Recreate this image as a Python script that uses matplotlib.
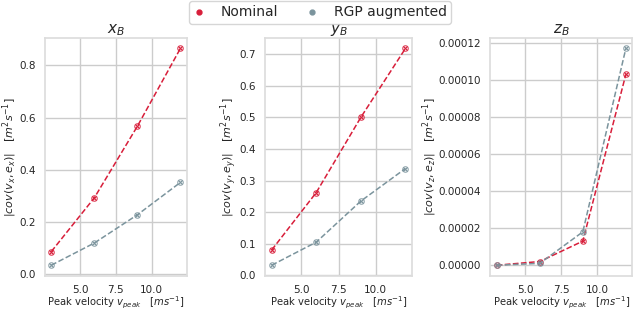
import matplotlib
matplotlib.use("Agg")
import matplotlib.pyplot as plt
import seaborn as sns

sns.set_theme(style="whitegrid")
plt.rcParams["font.family"] = ["DejaVu Sans"]

# peak velocities and covariance magnitudes
v_peak = [3, 6, 9, 12]
nominal_x = [0.087, 0.293, 0.567, 0.865]
rgp_x = [0.035, 0.120, 0.228, 0.352]
nominal_y = [0.080, 0.262, 0.500, 0.718]
rgp_y = [0.032, 0.105, 0.235, 0.338]
nominal_z = [0.0, 2.0e-6, 1.3e-5, 1.03e-4]
rgp_z = [0.0, 1.0e-6, 1.8e-5, 1.17e-4]

titles = [r"$x_B$", r"$y_B$", r"$z_B$"]
ylabels = [r"$|cov(v_x, e_x)|$   $[m^2s^{-1}]$",
           r"$|cov(v_y, e_y)|$   $[m^2s^{-1}]$",
           r"$|cov(v_z, e_z)|$   $[m^2s^{-1}]$"]
series = [(nominal_x, rgp_x), (nominal_y, rgp_y), (nominal_z, rgp_z)]

RED = "#d81e3a"
GREY = "#7b949d"

fig = plt.figure(figsize=(6.4, 3.13), dpi=100)
boxes = [[0.070, 0.118, 0.222, 0.762],
         [0.414, 0.118, 0.230, 0.762],
         [0.766, 0.118, 0.222, 0.762]]
ylab_x = [-0.18, -0.175, -0.36]
axes = [fig.add_axes(b) for b in boxes]

for ax, title, ylab, lx, (nom, rgp) in zip(axes, titles, ylabels, ylab_x, series):
    for vals, col in [(nom, RED), (rgp, GREY)]:
        ax.plot(v_peak, vals, "--", color=col, lw=1.1)
        ax.plot(v_peak, vals, "o", color=col, ms=4, mfc="none", mew=0.8,
                alpha=0.8)
        ax.plot(v_peak, vals, "x", color=col, ms=3, mew=0.8)
    ax.set_title(title, fontsize=11, pad=3)
    ax.set_ylabel(ylab, fontsize=8)
    ax.yaxis.set_label_coords(lx, 0.5)
    ax.set_xlabel(r"Peak velocity $v_{peak}$   $[ms^{-1}]$", fontsize=7.2)
    ax.xaxis.set_label_coords(0.5, -0.08)
    ax.set_xticks([5.0, 7.5, 10.0])
    ax.tick_params(labelsize=7.5, pad=0.5)
    for s in ax.spines.values():
        s.set_color("#dddddd")

axes[0].set_yticks([0.0, 0.2, 0.4, 0.6, 0.8])
axes[1].set_yticks([0.0, 0.1, 0.2, 0.3, 0.4, 0.5, 0.6, 0.7])
zt = [0, 2e-5, 4e-5, 6e-5, 8e-5, 1e-4, 1.2e-4]
axes[2].set_yticks(zt)
axes[2].set_yticklabels([f"{t:.5f}" for t in zt])

handles = [plt.Line2D([], [], ls="none", marker="o", ms=3.5, color=RED),
           plt.Line2D([], [], ls="none", marker="o", ms=3.5, color=GREY)]
fig.legend(handles, ["Nominal", "RGP augmented"], loc="upper center",
           bbox_to_anchor=(0.5, 1.018), ncol=2, fontsize=10, frameon=True,
           handlelength=0.8, handletextpad=1.2, columnspacing=2.0,
           borderpad=0.3)

fig.savefig("out.png", dpi=100)
